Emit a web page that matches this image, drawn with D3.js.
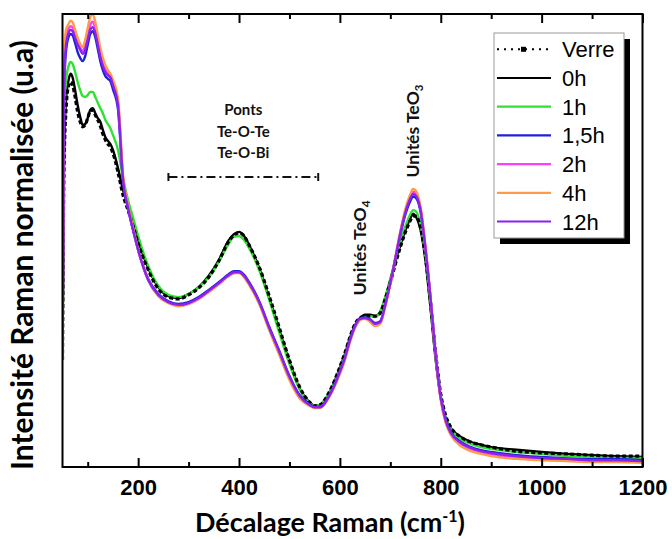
<!DOCTYPE html>
<html><head><meta charset="utf-8">
<script src="https://cdn.jsdelivr.net/npm/d3@7"></script>
<style>body{margin:0;background:#fff}</style>
</head><body><svg id="c" width="672" height="539"></svg>
<script>
// Raman shift (cm-1)
const wavenumbers = [50,53,57,62,66,70,75,80,85,90,95,100,105,110,115,120,125,130,135,140,145,150,160,170,180,190,200,220,240,260,280,300,320,340,360,380,390,400,410,420,440,460,480,500,520,540,550,560,580,600,610,620,630,640,650,660,670,680,690,700,710,720,730,740,745,750,760,770,780,790,800,810,820,840,860,880,900,950,1000,1050,1100,1150,1200];
// normalised intensities (a.u.)
const verre = [23.6,65.6,78.8,84.1,85.0,84.3,81.7,78.4,76.2,75.1,75.5,77.0,78.6,78.8,77.7,76.6,75.3,73.5,72.2,71.3,70.6,69.3,65.1,60.0,56.7,53.2,49.4,43.5,39.3,37.5,37.1,38.0,39.5,41.9,45.5,49.9,51.2,51.7,51.0,49.0,44.2,37.7,30.7,23.6,17.7,14.3,13.5,13.7,16.8,22.1,25.2,28.7,31.6,32.9,33.3,33.3,33.3,34.0,37.1,40.8,44.8,48.6,51.9,54.5,55.4,55.4,52.8,46.1,36.0,24.9,16.1,11.3,8.8,6.6,5.5,4.9,4.4,3.5,3.1,2.9,2.6,2.4,2.4];
const h0 = [23.6,67.8,81.0,85.4,86.8,86.0,83.2,79.9,77.3,75.5,75.7,77.0,78.8,79.2,78.1,77.0,76.2,74.4,72.8,72.0,71.3,70.0,66.0,61.1,57.8,54.1,50.1,43.9,39.7,37.7,37.3,38.2,39.7,42.2,45.7,50.1,51.4,51.9,51.0,49.0,43.9,37.3,30.2,23.2,17.4,14.3,13.5,13.7,16.6,21.9,24.9,28.5,31.3,32.9,33.6,33.6,33.3,34.2,37.3,41.3,45.3,49.0,52.3,55.0,55.9,55.4,52.3,45.3,34.7,23.6,15.2,10.8,8.6,6.6,5.5,4.9,4.4,3.8,3.3,2.9,2.6,2.4,2.2];
const h1 = [23.6,72.2,85.4,88.5,89.4,89.0,87.2,85.0,83.2,81.9,81.7,82.1,82.8,82.8,81.7,80.4,79.2,78.1,76.6,75.7,74.8,73.3,70.0,63.8,58.9,55.0,51.0,44.4,40.0,38.0,37.5,38.2,39.7,41.9,45.3,49.4,50.8,51.0,50.1,48.3,43.5,36.9,29.6,22.7,17.2,14.1,13.5,13.7,16.6,21.6,24.7,28.0,30.9,32.5,33.1,33.3,33.1,34.4,37.5,41.5,45.7,49.7,53.2,55.9,56.7,56.5,53.4,46.1,35.5,24.3,15.7,10.8,8.4,6.2,5.1,4.4,4.0,3.3,2.9,2.4,2.2,2.0,2.0];
const h1_5 = [23.6,83.0,91.8,94.9,95.6,95.3,93.6,91.6,90.3,89.6,90.7,93.2,95.6,96.2,94.9,92.3,89.6,87.6,86.3,85.7,85.2,83.4,79.0,63.0,57.0,52.2,47.9,41.5,38.2,36.6,36.0,36.4,37.5,39.1,40.8,42.6,43.2,43.2,42.4,40.8,36.6,30.9,25.6,20.1,15.9,13.9,13.3,13.3,16.0,21.1,24.2,28.1,31.2,32.8,33.0,32.6,31.8,32.2,35.9,40.6,45.9,51.3,55.8,58.8,59.7,59.5,56.3,47.7,36.9,24.8,15.4,10.4,7.7,5.5,4.4,3.7,3.3,2.6,2.2,1.9,1.7,1.7,1.5];
const h2 = [23.6,87.0,94.6,96.7,97.3,97.0,95.4,93.8,92.6,91.8,93.0,95.4,97.6,98.3,96.8,94.1,91.4,89.3,87.9,87.0,86.3,84.8,80.6,63.9,57.4,52.5,47.9,41.2,37.8,36.2,35.6,36.0,37.1,38.7,40.4,42.2,42.8,42.9,42.0,40.4,36.2,30.4,25.0,19.5,15.4,13.6,13.1,13.1,15.8,20.8,23.9,27.8,30.9,32.6,32.8,32.2,31.3,31.8,35.6,40.5,46.2,51.9,56.6,59.8,60.8,60.5,57.0,48.1,36.9,24.6,15.0,9.9,7.3,4.9,3.8,3.2,2.7,2.1,1.7,1.5,1.3,1.3,1.1];
const h4 = [23.6,89.8,96.5,97.8,98.5,98.2,96.5,94.7,93.4,92.7,94.3,96.9,99.3,100.0,98.2,95.4,92.5,90.3,88.7,87.6,86.8,85.4,81.5,64.5,57.8,52.8,47.9,41.3,37.7,36.2,35.5,36.0,37.1,38.6,40.4,42.2,42.8,42.8,41.9,40.2,36.0,30.2,24.7,19.2,15.2,13.5,13.0,13.0,15.7,20.5,23.6,27.6,30.7,32.5,32.7,32.0,31.1,31.6,35.5,40.4,46.4,52.1,57.0,60.3,61.4,61.1,57.4,48.3,36.9,24.5,14.8,9.7,7.1,4.6,3.5,2.9,2.4,1.8,1.5,1.3,1.1,1.1,0.9];
const h12 = [23.6,85.4,93.2,95.8,96.5,96.2,94.7,93.2,92.1,91.2,92.1,94.3,96.5,97.1,95.8,93.2,90.5,88.5,87.2,86.5,86.0,84.3,79.9,63.4,57.2,52.3,47.9,41.3,38.0,36.4,35.8,36.2,37.3,38.9,40.6,42.4,43.0,43.0,42.2,40.6,36.4,30.7,25.4,19.9,15.7,13.7,13.2,13.2,15.9,21.0,24.1,28.0,31.1,32.7,32.9,32.5,31.6,32.0,35.8,40.6,46.1,51.7,56.3,59.4,60.3,60.0,56.7,47.9,36.9,24.7,15.2,10.2,7.5,5.3,4.2,3.5,3.1,2.4,2.0,1.8,1.5,1.5,1.3];

const seriesNames = ["Verre","0h","1h","1,5h","2h","4h","12h"];
const seriesValues = [verre,h0,h1,h1_5,h2,h4,h12];
const seriesColors = ["#000000","#000000","#2fe22f","#1f1fdc","#ff3cff","#ff9a46","#8a22ee"];
const drawOrder = ["0h","1h","Verre","1,5h","2h","4h","12h"];
const majorTicks = [200,400,600,800,1000,1200];
const minorTicks = [100,300,500,700,900,1100];
const bridgeLabels = ["Ponts","Te-O-Te","Te-O-Bi"];
const bridgeRange = [260,557];

const svg = d3.select("#c");
const L=62.5,R=642.5,T=14,B=467;
const x = d3.scaleLinear().domain([50,1200]).range([L,R]);
const y = d3.scaleLinear().domain([0,100]).range([B,T]);

svg.append("rect").attr("width",672).attr("height",539).attr("fill","#fff");
svg.append("clipPath").attr("id","clip").append("rect").attr("x",L).attr("y",T-3).attr("width",R-L).attr("height",B-T+3);

const line = d3.line().x((d,i)=>x(wavenumbers[i])).y(d=>y(d)).curve(d3.curveMonotoneX);
const g = svg.append("g").attr("clip-path","url(#clip)");
drawOrder.forEach(n=>{
  const k = seriesNames.indexOf(n);
  const p = g.append("path").datum(seriesValues[k]).attr("d",line).attr("fill","none")
    .attr("stroke",seriesColors[k]).attr("stroke-linejoin","round");
  if(n==="Verre") p.attr("stroke-width",3.2).attr("stroke-dasharray","4,2.5");
  else p.attr("stroke-width",2.4);
});

// frame
svg.append("rect").attr("x",L).attr("y",T).attr("width",R-L).attr("height",B-T)
  .attr("fill","none").attr("stroke","#000").attr("stroke-width",2);

// axes
const ax = svg.append("g").attr("transform",`translate(0,${B})`)
  .call(d3.axisBottom(x).tickValues(majorTicks).tickSize(-9).tickPadding(12).tickFormat(d3.format("d")));
ax.select(".domain").remove();
ax.selectAll("line").attr("stroke","#000").attr("stroke-width",2);
ax.selectAll("text").attr("font-family","Liberation Sans, Arial").attr("font-weight","bold").attr("font-size",22).attr("fill","#000");
const axm = svg.append("g").attr("transform",`translate(0,${B})`)
  .call(d3.axisBottom(x).tickValues(minorTicks).tickSize(-5).tickFormat(""));
axm.select(".domain").remove(); axm.selectAll("line").attr("stroke","#000").attr("stroke-width",2);
[[majorTicks,9],[minorTicks,5]].forEach(([tv,s])=>{
  const at = svg.append("g").attr("transform",`translate(0,${T})`)
    .call(d3.axisTop(x).tickValues(tv).tickSize(-s).tickFormat(""));
  at.select(".domain").remove(); at.selectAll("line").attr("stroke","#000").attr("stroke-width",2);
});

function fit(sel,w){const l=sel.node().getComputedTextLength();const fs=parseFloat(sel.attr("font-size"));sel.attr("font-size",fs*w/l);}

// axis titles
const xt = svg.append("text").attr("x",330).attr("y",532).attr("text-anchor","middle")
  .attr("font-family","Lato, Open Sans, sans-serif").attr("font-weight","bold").attr("font-size",26).attr("fill","#000");
xt.append("tspan").text("Décalage Raman (cm");
xt.append("tspan").text("-1").attr("font-size","0.6em").attr("dy",-10);
xt.append("tspan").text(")").attr("dy",10);
fit(xt,270);

const yt = svg.append("text").attr("transform","translate(33,255) rotate(-90)").attr("text-anchor","middle")
  .attr("font-family","Lato, Open Sans, sans-serif").attr("font-weight","bold").attr("font-size",26).attr("fill","#000")
  .text("Intensité Raman normalisée (u.a)");
fit(yt,430);

// annotations
bridgeLabels.forEach((t,i)=>{
  svg.append("text").attr("x",x((bridgeRange[0]+bridgeRange[1])/2)).attr("y",[115,137,158][i])
    .attr("text-anchor","middle").attr("font-family","Lato, sans-serif").attr("font-weight","bold")
    .attr("font-size",15).attr("fill","#111").text(t);
});
const by=177;
svg.append("line").attr("x1",x(bridgeRange[0])).attr("x2",x(bridgeRange[1])).attr("y1",by).attr("y2",by)
  .attr("stroke","#111").attr("stroke-width",2).attr("stroke-dasharray","9,4,2,4");
bridgeRange.forEach(v=>svg.append("line").attr("x1",x(v)).attr("x2",x(v)).attr("y1",by-4).attr("y2",by+4).attr("stroke","#111").attr("stroke-width",2));

function rotLabel(cx,cy,len,sub){
  const t = svg.append("text").attr("transform",`translate(${cx},${cy}) rotate(-90)`).attr("text-anchor","middle")
    .attr("font-family","Lato, sans-serif").attr("font-weight","bold").attr("font-size",15).attr("fill","#111");
  t.append("tspan").text("Unités TeO");
  t.append("tspan").text(sub).attr("font-size","0.65em").attr("dy",4);
  fit(t,len);
}
rotLabel(366,248,95,"4");
rotLabel(419,131,93,"3");

// legend
svg.append("rect").attr("x",500).attr("y",39).attr("width",130).attr("height",205).attr("fill","#000");
svg.append("rect").attr("x",494).attr("y",33).attr("width",130).attr("height",205).attr("fill","#fff").attr("stroke","#999").attr("stroke-width",1);
seriesNames.forEach((n,i)=>{
  const yy = 49.3+28.7*i;
  const ln = svg.append("line").attr("x1",497).attr("x2",551).attr("y1",yy).attr("y2",yy).attr("stroke",seriesColors[i]);
  if(n==="Verre"){ ln.attr("stroke-width",2).attr("stroke-dasharray","2,5");
    svg.append("rect").attr("x",521).attr("y",yy-2.5).attr("width",5).attr("height",5).attr("fill","#000"); }
  else ln.attr("stroke-width",2.2);
  svg.append("text").attr("x",562).attr("y",yy+8).attr("font-family","Liberation Sans, Arial").attr("font-size",22).attr("fill","#000").text(n);
});
</script></body></html>
